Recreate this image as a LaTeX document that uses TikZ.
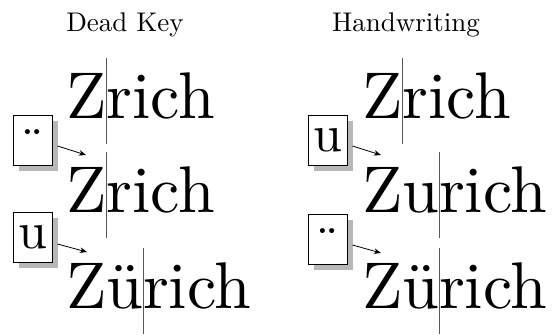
\documentclass[tikz,border=0pt]{standalone}
\usepackage{fontspec}
\newfontfamily\lmten{lmroman10-regular.otf}
\usetikzlibrary{shadows,arrows.meta}
\newcommand\bigsize{\lmten\fontsize{66bp}{76bp}\selectfont}
\newcommand\keysize{\lmten\fontsize{52bp}{60bp}\selectfont}
\newcommand\titlesize{\lmten\fontsize{27bp}{32bp}\selectfont}
\begin{document}
\begin{tikzpicture}[x=1bp,y=-1bp,
  word/.style={inner sep=0pt, outer sep=0pt, anchor=base west, font=\bigsize},
  cursorline/.style={draw=black!65, line width=0.9bp},
  keybox/.style={draw, line width=1bp, fill=white, minimum width=39bp,
    minimum height=50bp, inner sep=0pt, font=\keysize,
    general shadow={fill=black!28, shadow xshift=5.5bp, shadow yshift=-5.5bp}},
  keyglyph/.style={inner sep=0pt, anchor=north, font=\keysize},
  heading/.style={font=\titlesize, anchor=base, inner sep=0pt},
  keyarrow/.style={-{Stealth[length=7bp,width=5.5bp,inset=2bp]}, line width=0.8bp}
]
\useasboundingbox (0,0) rectangle (553,335);

% headings
\node[heading] (hl) at (125,31) {Dead Key};
\node[heading] (hr) at (406,31) {Handwriting};

% ---- left column: dead key
\node[word] (l1a) at (66,118) {Z};
\node[word] (l1b) at (l1a.base east) {rich};
\draw[cursorline] ([yshift=60bp]l1a.base east) -- ([yshift=-26bp]l1a.base east);

\node[word] (l2a) at (66,212) {Z};
\node[word] (l2b) at (l2a.base east) {rich};
\draw[cursorline] ([yshift=60bp]l2a.base east) -- ([yshift=-26bp]l2a.base east);

\node[word] (l3a) at (66,308) {Zü};
\node[word] (l3b) at (l3a.base east) {rich};
\draw[cursorline] ([yshift=60bp]l3a.base east) -- ([yshift=-26bp]l3a.base east);

\node[keybox] (lk1) at (32.5,140) {};
\node[keyglyph] (lk1g) at ([yshift=-15bp]lk1.north) {¨};
\node[keybox] (lk2) at (32.5,237) {u};

\coordinate (la1) at (86,155);
\coordinate (la2) at (87,252);
\draw[keyarrow] ([xshift=5bp,yshift=-6bp]lk1.east) -- (la1);
\draw[keyarrow] ([xshift=5bp,yshift=-7bp]lk2.east) -- (la2);

% ---- right column: handwriting
\node[word] (r1a) at (362,118) {Z};
\node[word] (r1b) at (r1a.base east) {rich};
\draw[cursorline] ([yshift=60bp]r1a.base east) -- ([yshift=-26bp]r1a.base east);

\node[word] (r2a) at (362,212) {Zu};
\node[word] (r2b) at (r2a.base east) {rich};
\draw[cursorline] ([yshift=60bp]r2a.base east) -- ([yshift=-26bp]r2a.base east);

\node[word] (r3a) at (362,308) {Zü};
\node[word] (r3b) at (r3a.base east) {rich};
\draw[cursorline] ([yshift=60bp]r3a.base east) -- ([yshift=-26bp]r3a.base east);

\node[keybox] (rk1) at (327.5,140) {u};
\node[keybox] (rk2) at (327.5,239) {};
\node[keyglyph] (rk2g) at ([yshift=-15bp]rk2.north) {¨};

\coordinate (ra1) at (381,155);
\coordinate (ra2) at (381,253);
\draw[keyarrow] ([xshift=5bp,yshift=-6bp]rk1.east) -- (ra1);
\draw[keyarrow] ([xshift=5bp,yshift=-6bp]rk2.east) -- (ra2);
\end{tikzpicture}
\end{document}
